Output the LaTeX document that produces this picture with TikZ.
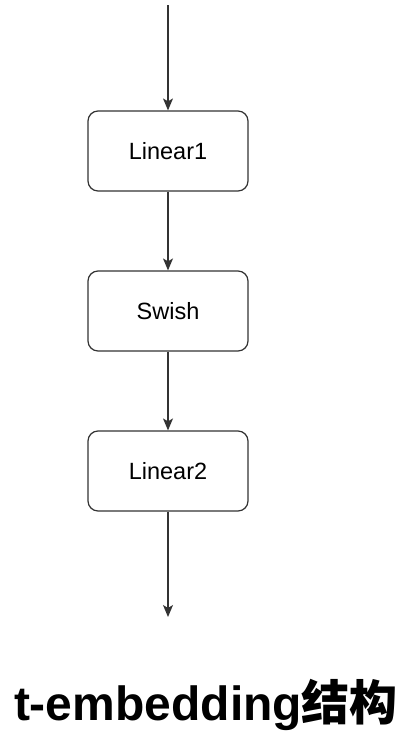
\documentclass[tikz,border=0pt]{standalone}
\usepackage{fontspec}
\setmainfont{Liberation Sans}
\newfontfamily\cjk{Noto Sans CJK SC}
\usetikzlibrary{arrows.meta}
\begin{document}
\begin{tikzpicture}[x=1pt,y=-1pt,
  blk/.style={draw=black!80, line width=1.2pt, rounded corners=10pt, minimum width=160pt, minimum height=80pt, inner sep=0pt, font=\fontsize{23.5}{26}\selectfont, fill=white},
  conn/.style={draw=black!80, line width=1.2pt, -{Stealth[length=12pt,width=10pt,inset=3pt]}}]
\useasboundingbox (0,0) rectangle (402,744);
\coordinate (top) at (168,5);
\node[blk] (l1) at (168,151) {Linear1};
\node[blk] (sw) at (168,311) {Swish};
\node[blk] (l2) at (168,471) {Linear2};
\coordinate (bot) at (168,617);
\draw[conn] (top) -- (l1.north);
\draw[conn] (l1.south) -- (sw.north);
\draw[conn] (sw.south) -- (l2.north);
\draw[conn] (l2.south) -- (bot);
\node[font=\fontsize{48}{52}\selectfont\bfseries, inner sep=0pt, anchor=base] (title) at (206,720) {t-embedding{\cjk\bfseries 结构}};
\end{tikzpicture}
\end{document}
